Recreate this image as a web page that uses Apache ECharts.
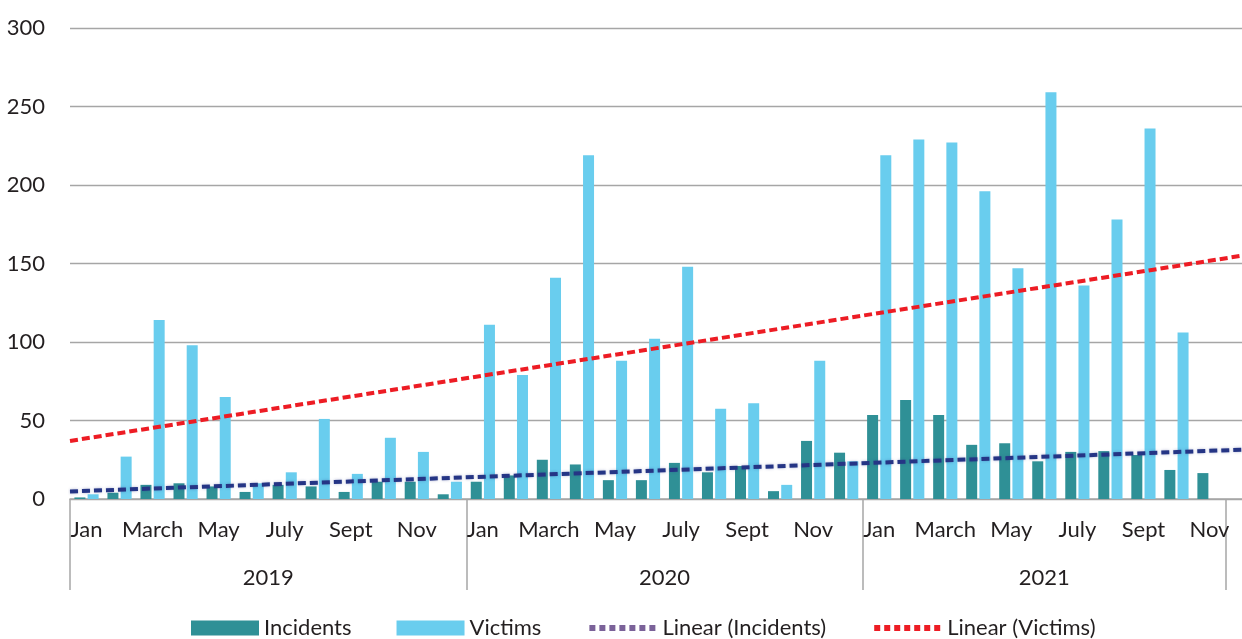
<!DOCTYPE html>
<html><head><meta charset="utf-8">
<script src="https://cdn.jsdelivr.net/npm/echarts@6/dist/echarts.min.js"></script>
<style>html,body{margin:0;padding:0;background:#fff}#c{width:1242px;height:639px}</style>
</head><body><div id="c"></div><script>
// ---- data ----
const years = ['2019', '2020', '2021'];
const monthsPerYear = [12, 12, 11];
const monthNames = ['Jan', 'Feb', 'March', 'April', 'May', 'June', 'July', 'Aug', 'Sept', 'Oct', 'Nov', 'Dec'];
const incidents = [1, 4, 9, 10, 8, 4.5, 9, 8, 4.5, 11, 11, 3,
                   11, 15, 25, 22, 12, 12, 23, 17, 21, 5, 37, 29.5,
                   53.5, 63, 53.5, 34.5, 35.5, 24, 30, 30.5, 28, 18.5, 16.5];
const victims = [3, 27, 114, 98, 65, 10, 17, 51, 16, 39, 30, 11,
                 111, 79, 141, 219, 88, 102, 148, 57.5, 61, 9, 88, 24,
                 219, 229, 227, 196, 147, 259, 136, 178, 236, 106, 0];
const yTicks = [0, 50, 100, 150, 200, 250, 300];
const trendIncidents = [4.8, 31.4];   // start, end of Excel linear trendline
const trendVictims = [37, 155];
const seriesNames = ['Incidents', 'Victims', 'Linear (Incidents)', 'Linear (Victims)'];

// ---- derived ----
const months = [];
years.forEach((y, i) => { for (let m = 0; m < monthsPerYear[i]; m++) months.push(monthNames[m]); });
const total = months.length;
const boundaries = [0];
monthsPerYear.forEach(n => boundaries.push(boundaries[boundaries.length - 1] + 2 * n));
const halfSlots = new Array(2 * total + 1).fill('');
years.forEach((y, i) => { halfSlots[(boundaries[i] + boundaries[i + 1]) / 2] = y; });
const yearLabelIdx = years.map((y, i) => (boundaries[i] + boundaries[i + 1]) / 2);
const trendX = [-0.5, total];

const FONT = 'Lato';
const TXT = '#231f20';
const GRID_C = '#a6a6a6';
const yMin = yTicks[0], yMax = yTicks[yTicks.length - 1], yInt = yTicks[1] - yTicks[0];
const gridBase = { top: 28, bottom: 140, left: 70 };
const hiddenSym = { color: 'rgba(0,0,0,0)', borderWidth: 0, opacity: 0 };

const chart = echarts.init(document.getElementById('c'), null, { renderer: 'canvas' });
chart.setOption({
  animation: false,
  backgroundColor: '#fff',
  grid: [
    Object.assign({ right: 0 }, gridBase),
    Object.assign({ right: 16 }, gridBase),
    Object.assign({ right: 16 }, gridBase)
  ],
  xAxis: [
    { gridIndex: 0, type: 'value', min: trendX[0], max: trendX[1],
      axisLine: { show: true, lineStyle: { color: GRID_C, width: 1.5 } },
      axisTick: { show: false }, axisLabel: { show: false }, splitLine: { show: false } },
    { gridIndex: 1, type: 'category', data: months, boundaryGap: true,
      axisLine: { show: false }, axisTick: { show: false },
      axisLabel: { interval: 1, margin: 20, fontFamily: FONT, fontSize: 22, color: TXT } },
    { gridIndex: 2, type: 'category', data: halfSlots, boundaryGap: false,
      axisLine: { show: false },
      axisTick: { show: true, length: 91, interval: (i) => boundaries.includes(i),
                  lineStyle: { color: GRID_C, width: 1.5 } },
      axisLabel: { interval: (i) => yearLabelIdx.includes(i), margin: 68,
                   fontFamily: FONT, fontSize: 22, color: TXT } }
  ],
  yAxis: [
    { gridIndex: 0, type: 'value', min: yMin, max: yMax, interval: yInt,
      axisLine: { show: false }, axisTick: { show: false },
      axisLabel: { margin: 25, fontFamily: FONT, fontSize: 22, color: TXT },
      splitLine: { lineStyle: { color: GRID_C, width: 1.4 } } },
    { gridIndex: 1, type: 'value', min: yMin, max: yMax, show: false },
    { gridIndex: 2, type: 'value', min: yMin, max: yMax, show: false }
  ],
  legend: {
    left: 186, top: 612, itemWidth: 68, itemHeight: 15, itemGap: 45,
    textStyle: { fontFamily: FONT, fontSize: 22, color: TXT },
    data: [
      { name: seriesNames[0], icon: 'rect' },
      { name: seriesNames[1], icon: 'rect' },
      { name: seriesNames[2], itemStyle: hiddenSym,
        lineStyle: { color: '#7b6299', type: [6, 4], width: 6 } },
      { name: seriesNames[3], itemStyle: hiddenSym,
        lineStyle: { color: '#ed1c24', type: [6, 4], width: 6 } }
    ]
  },
  series: [
    { name: seriesNames[0], type: 'bar', xAxisIndex: 1, yAxisIndex: 1, data: incidents,
      barWidth: 11, barGap: '20%', itemStyle: { color: '#2f9096' }, z: 3 },
    { name: seriesNames[1], type: 'bar', xAxisIndex: 1, yAxisIndex: 1, data: victims,
      barWidth: 11, barGap: '20%', itemStyle: { color: '#69cdee' }, z: 3 },
    { name: seriesNames[2], type: 'line', xAxisIndex: 0, yAxisIndex: 0, symbol: 'none',
      data: trendX.map((x, i) => [x, trendIncidents[i]]), z: 5, silent: true,
      lineStyle: { color: '#253585', width: 4, type: [8, 4],
                   shadowColor: 'rgba(37,53,133,0.35)', shadowBlur: 3 } },
    { name: seriesNames[3], type: 'line', xAxisIndex: 0, yAxisIndex: 0, symbol: 'none',
      data: trendX.map((x, i) => [x, trendVictims[i]]), z: 5, silent: true,
      lineStyle: { color: '#ed1c24', width: 4, type: [8, 4] } }
  ]
});
</script></body></html>
